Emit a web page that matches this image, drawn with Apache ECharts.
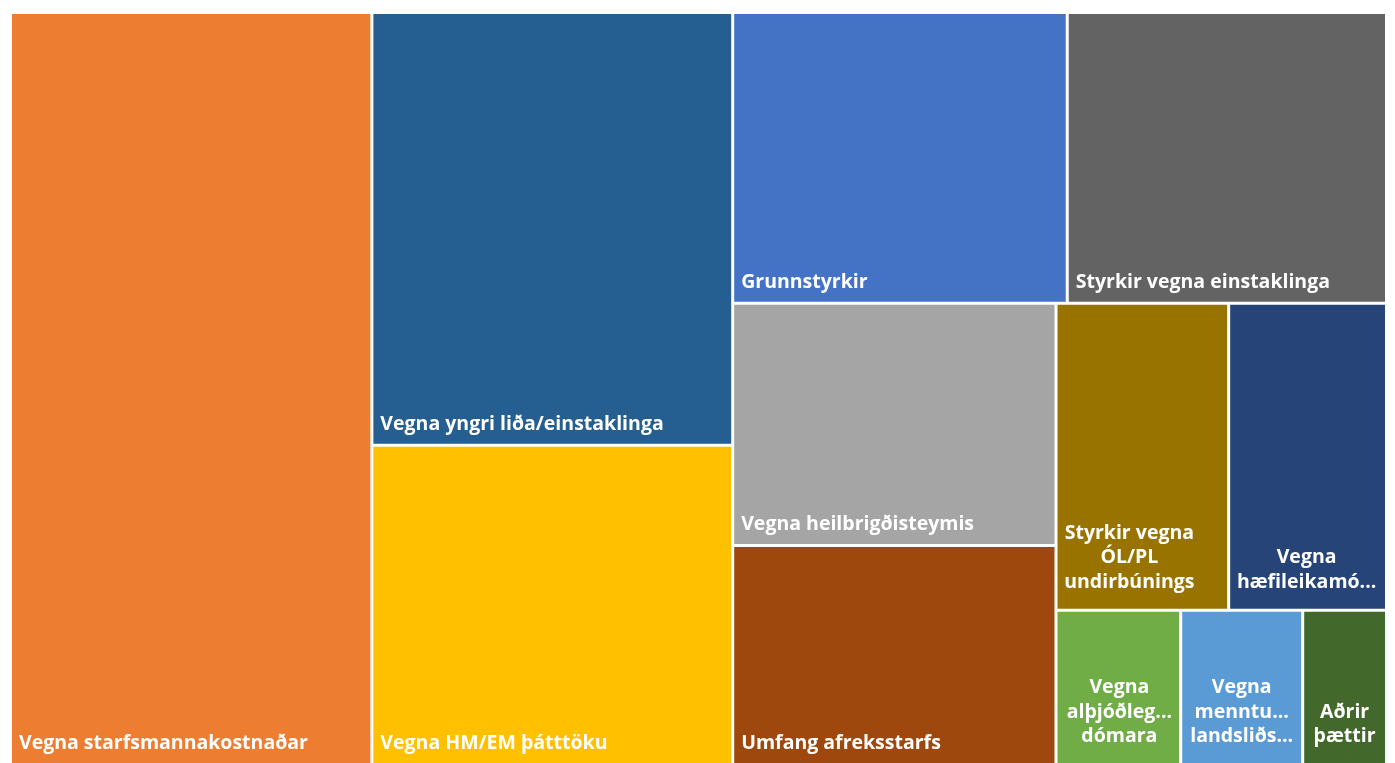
<!DOCTYPE html>
<html>
<head>
<meta charset="utf-8">
<script src="https://cdn.jsdelivr.net/npm/echarts@6/dist/echarts.min.js"></script>
<style>
  html, body { margin: 0; padding: 0; background: #ffffff; }
  #chart { width: 1395px; height: 763px; }
</style>
</head>
<body>
<div id="chart"></div>
<script>
// Categories (label text as shown in the reference)
const categories = [
  'Vegna starfsmannakostnaðar',
  'Vegna yngri liða/einstaklinga',
  'Vegna HM/EM þátttöku',
  'Grunnstyrkir',
  'Styrkir vegna einstaklinga',
  'Vegna heilbrigðisteymis',
  'Umfang afreksstarfs',
  'Styrkir vegna\nÓL/PL\nundirbúnings',
  'Vegna\nhæfileikamó...',
  'Vegna\nalþjóðleg...\ndómara',
  'Vegna\nmenntu...\nlandsliðs...',
  'Aðrir\nþættir'
];
// Relative size of each category (estimated from the areas, per mille)
const values = [262.6, 150.9, 111.3, 94.0, 89.7, 75.7, 68.4, 51.2, 46.8, 18.6, 18.2, 12.5];
const colors = ['#ED7D31', '#255E91', '#FFC000', '#4472C4', '#636363', '#A5A5A5',
                '#9E480E', '#997300', '#264478', '#70AD47', '#5B9BD5', '#43682B'];
// label placement per cell: [position, align, offsetX, offsetY]
const labelPlacement = [
  ['insideBottomLeft', 'left', 0, 0],
  ['insideBottomLeft', 'left', 0, 0],
  ['insideBottomLeft', 'left', 0, 0],
  ['insideBottomLeft', 'left', 0, 0],
  ['insideBottomLeft', 'left', 0, 0],
  ['insideBottomLeft', 'left', 0, 0],
  ['insideBottomLeft', 'left', 0, 0],
  ['insideBottom', 'center', -13, -7],
  ['insideBottom', 'center', -1, -7],
  ['insideBottom', 'center', 1, -7],
  ['insideBottom', 'center', 0, -7],
  ['insideBottom', 'center', 0, -7]
];

const data = categories.map((name, i) => ({
  name: name,
  value: values[i],
  itemStyle: { color: colors[i] },
  label: {
    position: labelPlacement[i][0],
    align: labelPlacement[i][1],
    offset: [labelPlacement[i][2], labelPlacement[i][3]]
  }
}));

const chart = echarts.init(document.getElementById('chart'), null, { renderer: 'canvas' });
chart.setOption({
  animation: false,
  backgroundColor: '#ffffff',
  series: [{
    type: 'treemap',
    left: 12,
    top: 14,
    right: 10,
    bottom: 0,
    roam: false,
    nodeClick: false,
    squareRatio: 0.985,
    sort: 'desc',
    breadcrumb: { show: false },
    itemStyle: { borderWidth: 0, gapWidth: 3, borderColor: '#ffffff' },
    label: {
      show: true,
      color: '#ffffff',
      fontFamily: 'Open Sans',
      fontWeight: 'bold',
      fontSize: 19.5,
      lineHeight: 24.5,
      padding: 0,
      distance: 7,
      overflow: 'none'
    },
    emphasis: { disabled: true },
    data: data
  }]
});
</script>
</body>
</html>
